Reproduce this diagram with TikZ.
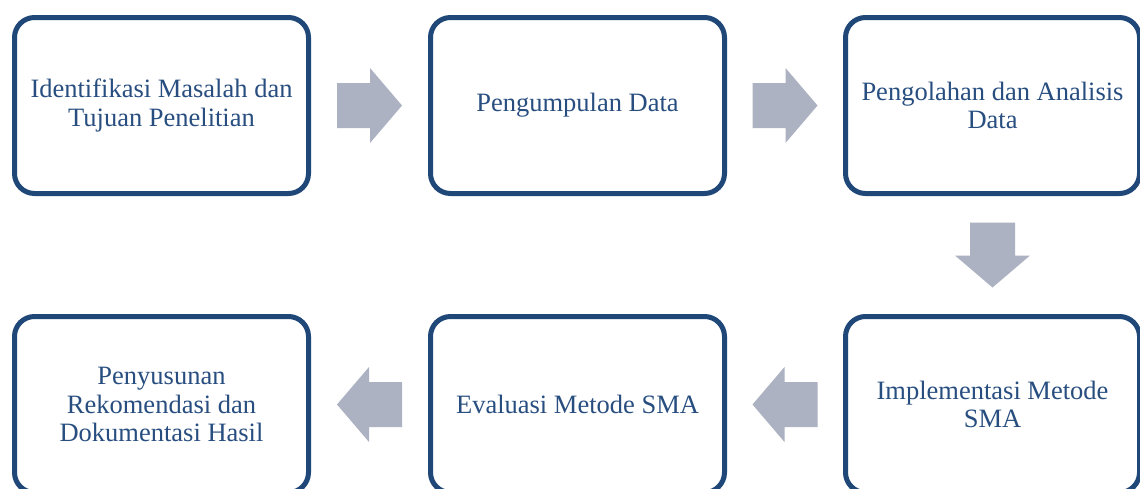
\documentclass[tikz,border=0pt]{standalone}
\usepackage{fontspec}
\setmainfont{Liberation Serif}
\usetikzlibrary{calc}
\definecolor{boxblue}{RGB}{31,71,120}
\definecolor{txtblue}{RGB}{40,78,128}
\definecolor{arrgray}{RGB}{172,178,193}
\tikzset{
  stage/.style={draw=boxblue,line width=5pt,rounded corners=20pt,minimum width=294pt,minimum height=176pt,
    align=center,text=txtblue,font=\fontsize{26.5}{28.5}\selectfont},
  blockarr/.pic={\fill[arrgray](-32.5,-22.5)--(0.5,-22.5)--(0.5,-37.5)--(32.5,0)--(0.5,37.5)--(0.5,22.5)--(-32.5,22.5)--cycle;}
}
\begin{document}
\begin{tikzpicture}[x=1pt,y=1pt]
\useasboundingbox(0,0) rectangle (1140,-488);
\clip(0,0) rectangle (1140,-488);
\fill[white](0,0) rectangle (1140,-488);
\pgfmathsetmacro{\ya}{-105.5}
\pgfmathsetmacro{\yb}{-404.5}
% top row
\node[stage](idm) at (161.5,\ya){Identifikasi Masalah dan\\Tujuan Penelitian};
\node[stage](pd) at (577.5,\ya){Pengumpulan Data};
\node[stage](pad) at (992.5,\ya){Pengolahan dan Analisis\\Data};
% bottom row
\node[stage](prk) at (161.5,\yb){Penyusunan\\Rekomendasi dan\\Dokumentasi Hasil};
\node[stage](ems) at (577.5,\yb){Evaluasi Metode SMA};
\node[stage](ims) at (992.5,\yb){Implementasi Metode\\SMA};
% block arrows
\pic at ($(idm.east)!0.5!(pd.west)$) {blockarr};
\pic at ($(pd.east)!0.5!(pad.west)$) {blockarr};
\pic[rotate=-90] at ($(pad.south)!0.5!(ims.north)$) {blockarr};
\pic[rotate=180] at ($(ims.west)!0.5!(ems.east)$) {blockarr};
\pic[rotate=180] at ($(ems.west)!0.5!(prk.east)$) {blockarr};
\end{tikzpicture}
\end{document}
